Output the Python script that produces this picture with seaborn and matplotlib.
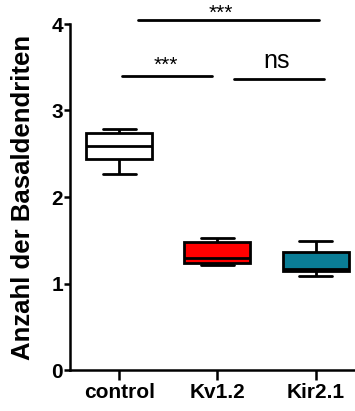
import matplotlib
matplotlib.use("Agg")
import matplotlib.pyplot as plt
import seaborn as sns
import pandas as pd

# five-number summaries (min, q1, median, q3, max)
groups = ["control", "Kv1.2", "Kir2.1"]
control = [2.27, 2.44, 2.59, 2.74, 2.79]
kv12 = [1.21, 1.24, 1.29, 1.48, 1.53]
kir21 = [1.09, 1.14, 1.17, 1.36, 1.49]
colors = {"control": "white", "Kv1.2": "#ff0000", "Kir2.1": "#0a7d96"}
yticks = [0, 1, 2, 3, 4]

df = pd.DataFrame({
    "group": ["control"] * 5 + ["Kv1.2"] * 5 + ["Kir2.1"] * 5,
    "value": control + kv12 + kir21,
})

sns.set_style("ticks")
plt.rcParams["font.family"] = ["Liberation Sans", "DejaVu Sans"]
plt.rcParams["font.weight"] = "bold"
for key in ["text.color", "axes.labelcolor", "xtick.color", "ytick.color", "axes.edgecolor"]:
    plt.rcParams[key] = "black"

fig = plt.figure(figsize=(3.55, 4.11), dpi=100)
ax = fig.add_axes([70 / 355, 1 - 370 / 411, 285 / 355, 346 / 411])

sns.boxplot(data=df, x="group", y="value", hue="group", order=groups,
            palette=colors, legend=False, whis=(0, 100), width=0.67,
            linewidth=2, linecolor="black", saturation=1, ax=ax)

ax.set_ylim(0, 4)
ax.set_xlim(-0.5, 2.4)
ax.set_yticks(yticks)
ax.set_xlabel("")
ax.set_ylabel("Anzahl der Basaldendriten", fontsize=18.5, fontweight="bold", labelpad=12)
ax.tick_params(axis="y", labelsize=15, width=1.8, length=4, pad=1)
ax.tick_params(axis="x", labelsize=15, width=1.8, length=7, pad=2)
for lab in ax.get_xticklabels() + ax.get_yticklabels():
    lab.set_fontweight("bold")
for side in ["top", "right"]:
    ax.spines[side].set_visible(False)
for side in ["left", "bottom"]:
    ax.spines[side].set_linewidth(1.8)

# significance bars
ax.plot([0.19, 2.03], [4.05, 4.05], color="black", lw=2, clip_on=False)
ax.text(1.03, 4.12, "***", ha="center", va="center", fontsize=15, fontweight="normal")
ax.plot([0.03, 0.94], [3.40, 3.40], color="black", lw=2, clip_on=False)
ax.text(0.48, 3.52, "***", ha="center", va="center", fontsize=15, fontweight="normal")
ax.plot([1.17, 2.08], [3.36, 3.36], color="black", lw=2, clip_on=False)
ax.text(1.60, 3.49, "ns", ha="center", va="baseline", fontsize=18, fontweight="normal")

fig.savefig("out.png", dpi=100)
